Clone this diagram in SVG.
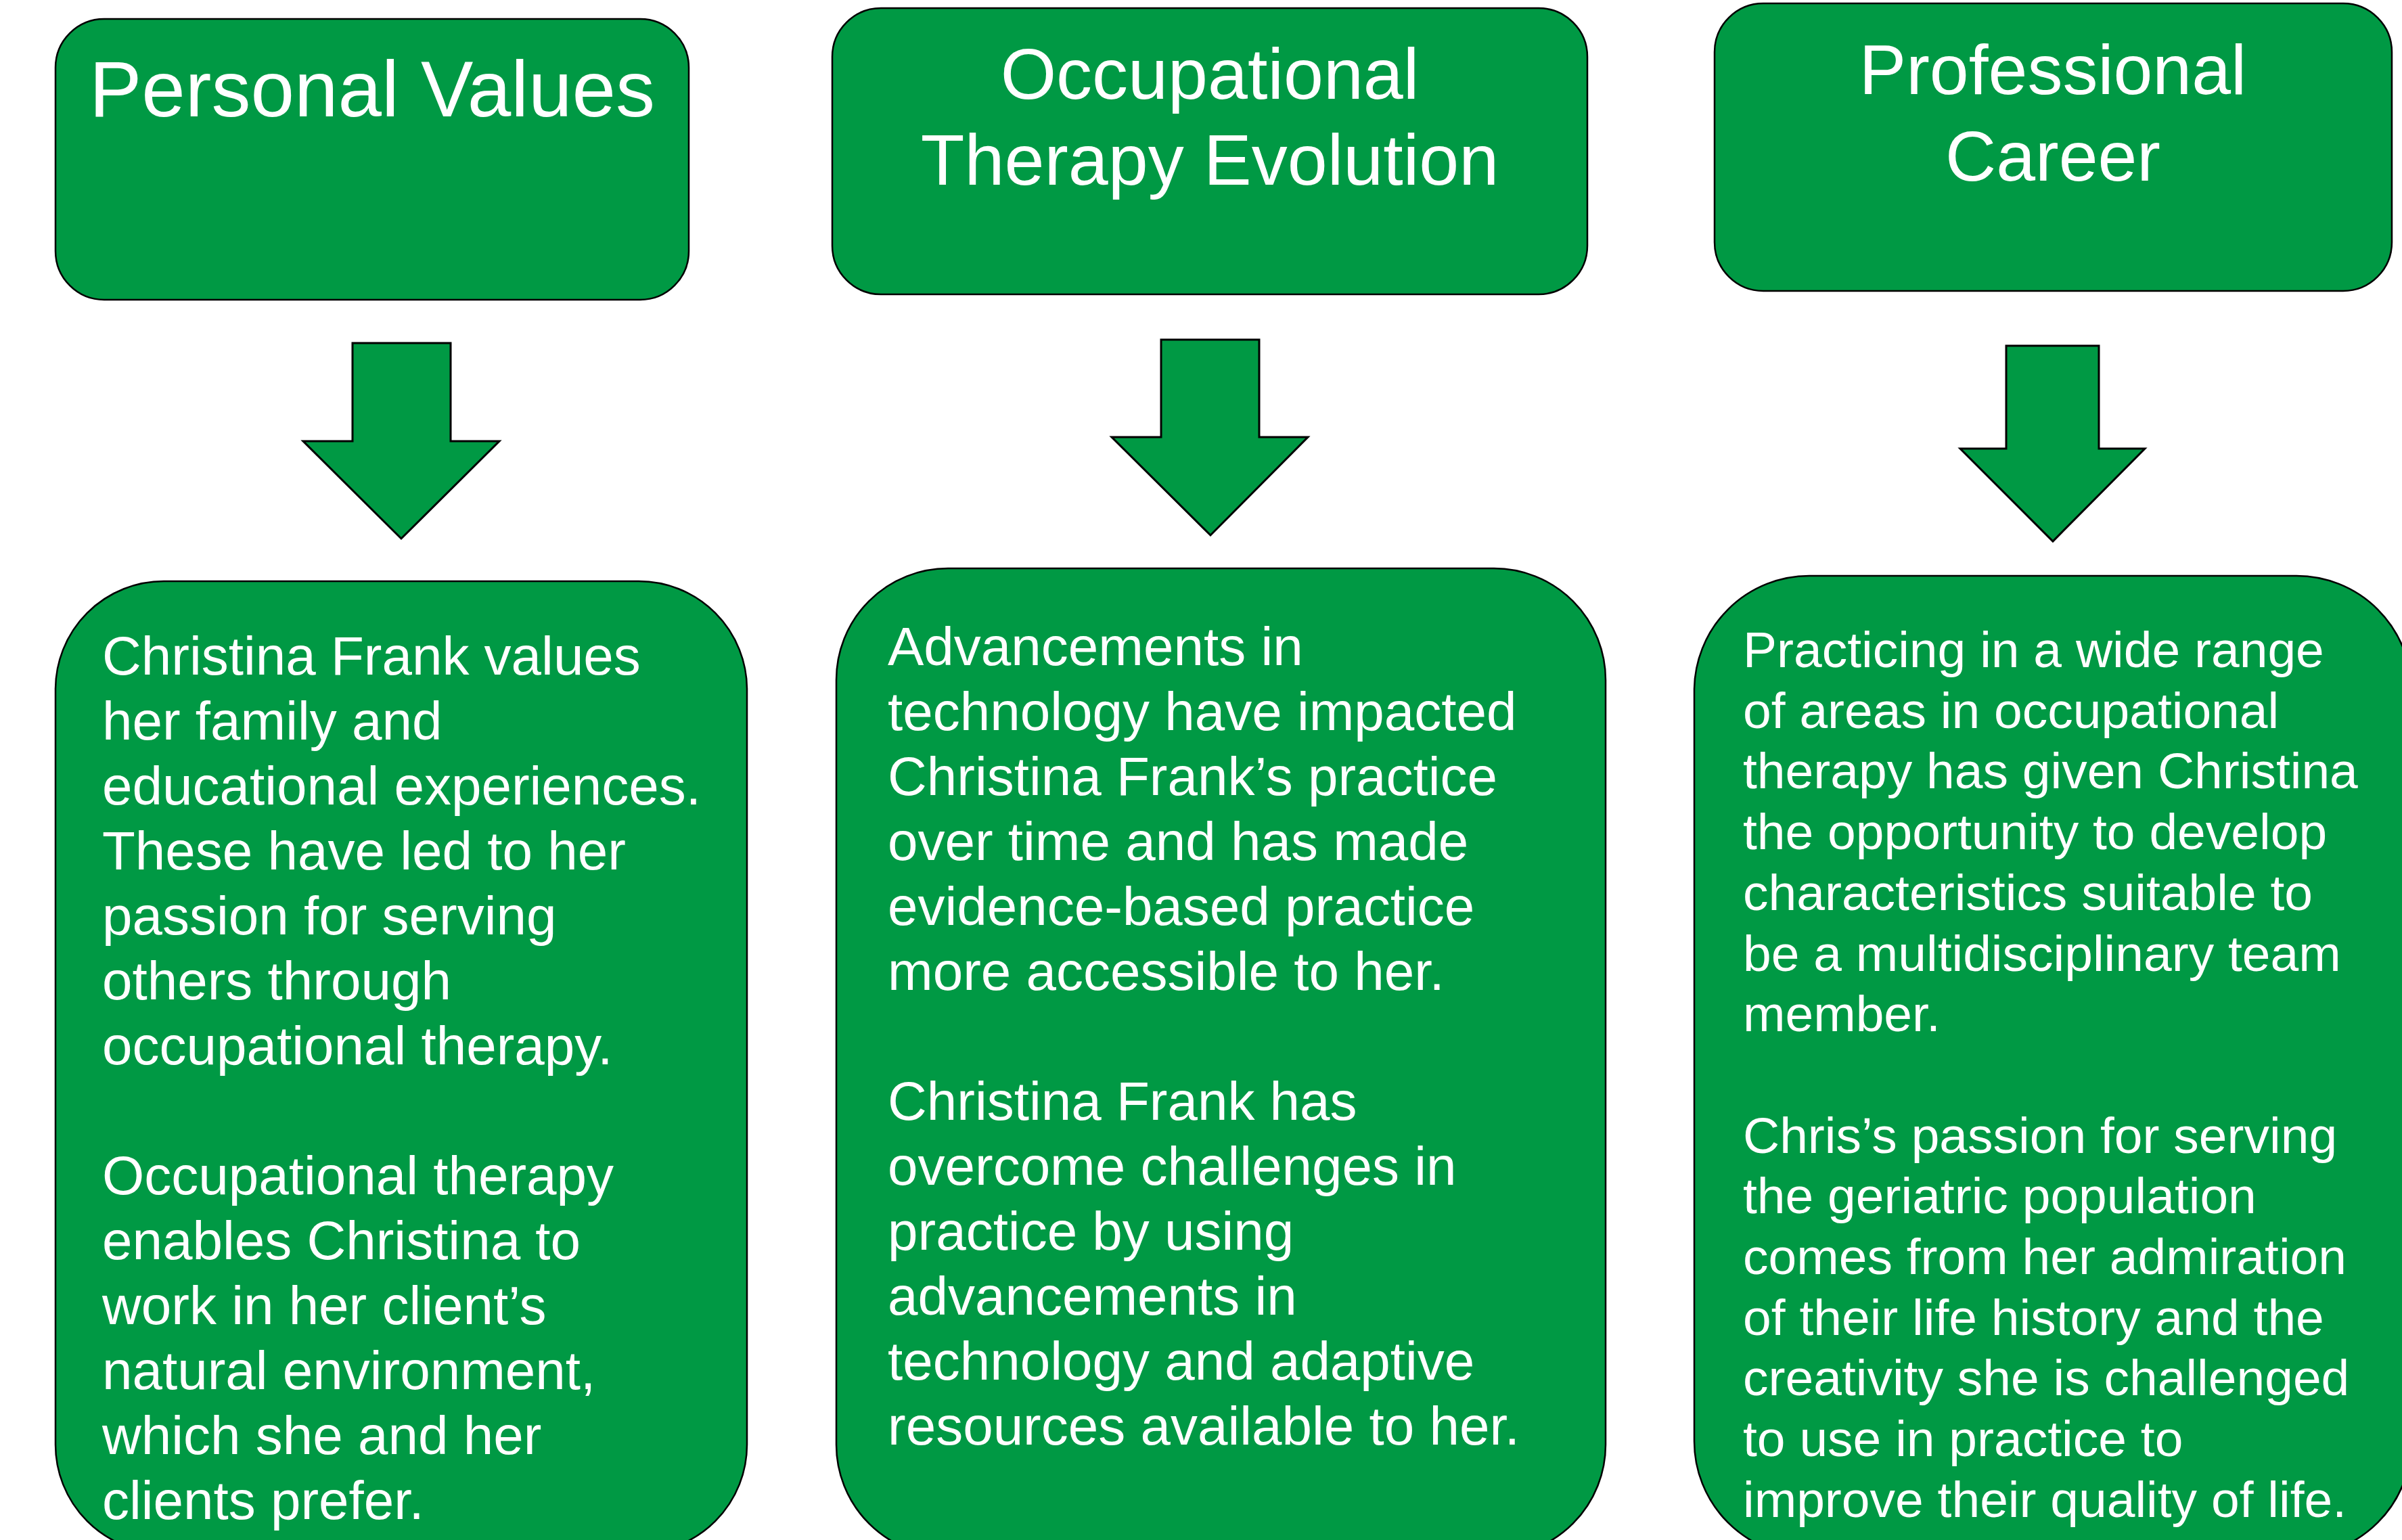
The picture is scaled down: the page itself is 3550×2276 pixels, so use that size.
<svg xmlns="http://www.w3.org/2000/svg" width="3550" height="2276" viewBox="0 0 3550 2276">
<style>
.box{fill:#009944;stroke:#000;stroke-width:2.5}
.arrow{fill:#009944;stroke:#000;stroke-width:3;stroke-linejoin:miter}
text{font-family:"Liberation Sans",Arial,sans-serif;fill:#fff}
.title{text-anchor:middle}
.body{font-size:80px}
.body6{font-size:75px}
</style>
<rect width="3550" height="2276" fill="#fff"/>
<g id="personal-values">
<rect class="box" x="82" y="28" width="936" height="415" rx="72" ry="72"/>
<text class="title" x="550" y="172" font-size="116">Personal Values</text>
</g>
<g id="ot-evolution">
<rect class="box" x="1230" y="12" width="1116" height="423" rx="72" ry="72"/>
<text class="title" font-size="106"><tspan x="1788" y="146">Occupational</tspan><tspan x="1788" y="273">Therapy Evolution</tspan></text>
</g>
<g id="professional-career">
<rect class="box" x="2534" y="5" width="1001" height="425" rx="72" ry="72"/>
<text class="title" font-size="104"><tspan x="3034" y="139">Professional</tspan><tspan x="3034" y="267">Career</tspan></text>
</g>
<g id="connectors">
<polygon class="arrow" points="521,507 666,507 666,652 738,652 593,796 448,652 521,652"/>
<polygon class="arrow" points="1716,502 1861,502 1861,646 1933,646 1789,791 1643,646 1716,646"/>
<polygon class="arrow" points="2965,511 3102,511 3102,663 3170,663 3034,800 2897,663 2965,663"/>
</g>
<g id="personal-values-detail">
<rect class="box" x="82" y="859" width="1022" height="1436" rx="160" ry="160"/>
<text class="body">
<tspan x="151" y="997">Christina Frank values</tspan>
<tspan x="151" y="1093">her family and</tspan>
<tspan x="151" y="1189">educational experiences.</tspan>
<tspan x="151" y="1285">These have led to her</tspan>
<tspan x="151" y="1381">passion for serving</tspan>
<tspan x="151" y="1477">others through</tspan>
<tspan x="151" y="1573">occupational therapy.</tspan>
<tspan x="151" y="1765">Occupational therapy</tspan>
<tspan x="151" y="1861">enables Christina to</tspan>
<tspan x="151" y="1957">work in her client’s</tspan>
<tspan x="151" y="2053">natural environment,</tspan>
<tspan x="151" y="2149">which she and her</tspan>
<tspan x="151" y="2245">clients prefer.</tspan>
</text>
</g>
<g id="ot-evolution-detail">
<rect class="box" x="1236" y="840" width="1137" height="1460" rx="165" ry="165"/>
<text class="body">
<tspan x="1312" y="983">Advancements in</tspan>
<tspan x="1312" y="1079">technology have impacted</tspan>
<tspan x="1312" y="1175">Christina Frank’s practice</tspan>
<tspan x="1312" y="1271">over time and has made</tspan>
<tspan x="1312" y="1367">evidence-based practice</tspan>
<tspan x="1312" y="1463">more accessible to her.</tspan>
<tspan x="1312" y="1655">Christina Frank has</tspan>
<tspan x="1312" y="1751">overcome challenges in</tspan>
<tspan x="1312" y="1847">practice by using</tspan>
<tspan x="1312" y="1943">advancements in</tspan>
<tspan x="1312" y="2039">technology and adaptive</tspan>
<tspan x="1312" y="2135">resources available to her.</tspan>
</text>
</g>
<g id="professional-career-detail">
<rect class="box" x="2504" y="851" width="1060" height="1449" rx="170" ry="170"/>
<text class="body6">
<tspan x="2576" y="986">Practicing in a wide range</tspan>
<tspan x="2576" y="1075.7">of areas in occupational</tspan>
<tspan x="2576" y="1165.4">therapy has given Christina</tspan>
<tspan x="2576" y="1255.1">the opportunity to develop</tspan>
<tspan x="2576" y="1344.8">characteristics suitable to</tspan>
<tspan x="2576" y="1434.5">be a multidisciplinary team</tspan>
<tspan x="2576" y="1524.2">member.</tspan>
<tspan x="2576" y="1703.6">Chris’s passion for serving</tspan>
<tspan x="2576" y="1793.3">the geriatric population</tspan>
<tspan x="2576" y="1883">comes from her admiration</tspan>
<tspan x="2576" y="1972.7">of their life history and the</tspan>
<tspan x="2576" y="2062.4">creativity she is challenged</tspan>
<tspan x="2576" y="2152.1">to use in practice to</tspan>
<tspan x="2576" y="2241.8">improve their quality of life.</tspan>
</text>
</g>
</svg>
